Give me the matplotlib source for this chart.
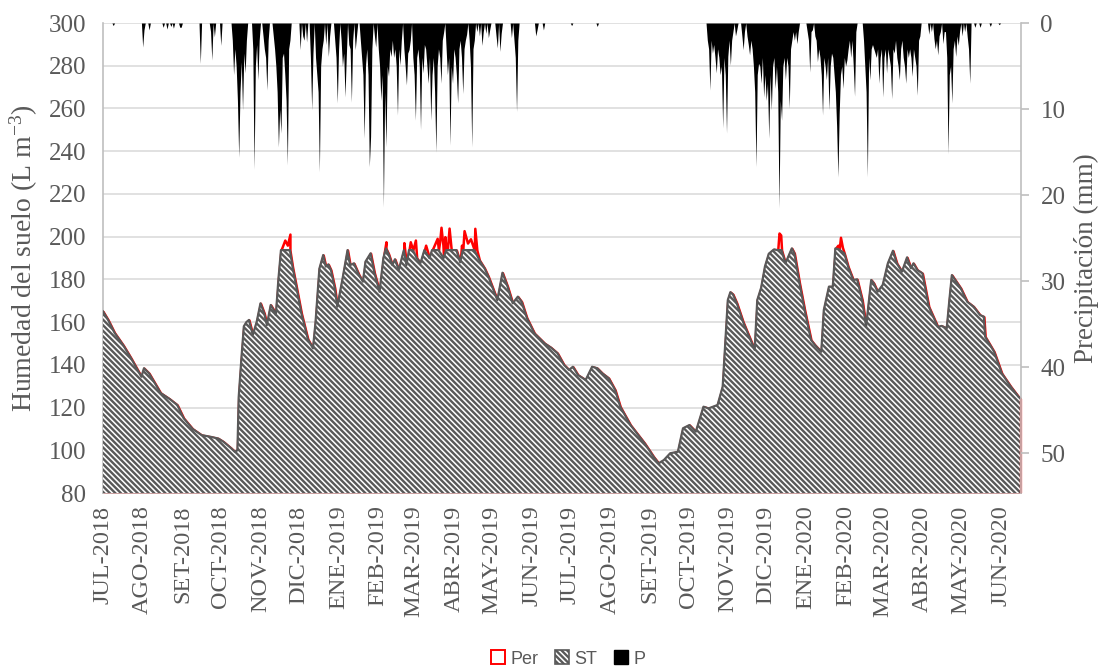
import numpy as np
import pandas as pd
import matplotlib
matplotlib.use("Agg")
import matplotlib.pyplot as plt
from matplotlib.patches import Patch

plt.rcParams['font.family'] = ['Liberation Serif', 'DejaVu Serif']
plt.rcParams['mathtext.fontset'] = 'custom'
plt.rcParams['mathtext.rm'] = 'Liberation Serif'
plt.rcParams['mathtext.it'] = 'Liberation Serif:italic'
plt.rcParams['hatch.linewidth'] = 1.7

# days counted from 2018-07-01
start = pd.Timestamp("2018-07-01")
n_days = 718

month_labels = ["JUL-2018", "AGO-2018", "SET-2018", "OCT-2018", "NOV-2018", "DIC-2018",
                "ENE-2019", "FEB-2019", "MAR-2019", "ABR-2019", "MAY-2019", "JUN-2019",
                "JUL-2019", "AGO-2019", "SET-2019", "OCT-2019", "NOV-2019", "DIC-2019",
                "ENE-2020", "FEB-2020", "MAR-2020", "ABR-2020", "MAY-2020", "JUN-2020"]

# soil water storage ST (L m-3)
st_day = [0, 4, 9, 16, 22, 30, 32, 36, 45, 52, 58, 63, 70, 77, 84, 90, 94, 100, 103, 105,
          106, 108, 110, 112, 114, 117, 120, 123, 126, 128, 131, 133, 135, 137, 139, 146, 148,
          155, 160, 164, 166, 169, 172, 174, 176, 178, 181, 183, 187, 191, 193, 196, 200, 203,
          205, 209, 212, 216, 219, 221, 223, 226, 228, 231, 235, 237, 239, 242, 245, 248, 251,
          255, 257, 262, 266, 268, 276, 279, 281, 290, 294, 298, 301, 305, 308, 312, 316, 320,
          324, 327, 331, 337, 345, 350, 355, 360, 364, 367, 371, 377, 382, 386, 390, 395, 400,
          404, 412, 423, 430, 434, 438, 443, 449, 453, 458, 463, 469, 473, 480, 484, 486, 488,
          490, 492, 495, 500, 509, 511, 514, 517, 520, 524, 527, 530, 533, 538, 540, 544, 548,
          553, 556, 561, 563, 567, 570, 572, 575, 579, 582, 586, 589, 593, 596, 600, 602, 605,
          609, 613, 617, 620, 624, 628, 631, 633, 636, 640, 645, 652, 655, 659, 661, 663, 670,
          675, 680, 685, 688, 689, 696, 702, 709, 715, 717]
st_val = [165, 161, 155, 149, 143, 134.4, 138.4, 136, 126.8, 124, 121.2, 115, 110, 107.1, 106.3,
          105.5, 104, 101, 99.3, 100, 125, 142.2, 158, 160, 161, 154, 160, 168.8, 164, 158.6,
          168, 166, 163.3, 180, 193.7, 193.7, 186, 164, 152, 147.7, 160, 185, 191.4, 186, 187,
          184.4, 176, 167.2, 180, 193.7, 186.7, 187.5, 182, 178.9, 188.3, 192.2, 183, 174.2,
          190, 194.5, 192, 186.7, 189.4, 184.4, 193.7, 186.7, 193.7, 193.7, 190, 187.7, 193.7,
          189.9, 193.7, 193.7, 190, 193.7, 193.7, 188, 193.7, 193.7, 189, 185.2, 181.3, 175,
          170.3, 183.1, 176.6, 168.8, 171.9, 169.5, 162, 154.7, 150, 148, 145.4, 140, 137.6,
          139.1, 135.2, 132.9, 139.1, 138.4, 136, 133.7, 128.2, 120.4, 111.8, 103.3, 97, 93.9,
          95.4, 98.6, 99.3, 110.3, 111.8, 108.7, 120.4, 119.6, 121.2, 129.8, 150, 170.3, 174,
          173, 168.9, 160, 147, 170.3, 176, 186, 192, 194, 193.7, 193.7, 187.5, 194.5, 192.2,
          178.2, 165.7, 151.6, 149.3, 146.1, 165.7, 176.6, 176.6, 194.5, 194, 192.2, 185.9,
          179.7, 180, 170.3, 157.8, 179.7, 178.2, 174.2, 177.4, 187.5, 193.4, 187.5, 183.6,
          190.3, 185.2, 187.5, 184.4, 182.8, 167.2, 157.8, 158.2, 157.1, 170, 182, 175.8, 169.5,
          167.2, 163.3, 162.5, 153.2, 146.1, 136, 129.8, 125.1, 124]

# percolation level Per, where it rises above ST
per_day = [142, 144, 146, 221, 235, 240, 244, 252, 258, 261, 263, 264, 265.5, 267, 269, 270.3,
           272, 280, 282, 284.7, 287, 290.4, 292, 528, 529.3, 574, 576, 577.5]
per_val = [198.4, 196, 201.2, 197.6, 197.2, 197.6, 198.4, 196, 195, 199.2, 198, 204.4, 196, 200,
           194, 204, 193.7, 196, 202.8, 197, 199, 203.9, 193.7, 201.7, 200.8, 196, 199.7, 195]

# precipitation P (mm), rainy days only
p_day = [8, 31, 32, 36, 47, 50, 53, 55, 60, 61, 76, 84, 85, 87, 92,
         101, 102, 103, 104, 105, 106, 107, 108, 109, 110, 111, 112, 117, 118, 119, 120, 121, 122,
         125, 126, 127, 128, 129, 133, 134, 135, 136, 137, 138, 139, 140, 141, 142, 143, 144, 145,
         146, 154, 156, 157, 159, 162, 163, 164, 166, 167, 168, 169, 170, 171, 172, 174, 176, 177,
         181, 182, 183, 184, 186, 187, 188, 189, 190, 192, 193, 194, 195, 197, 198, 201, 202, 203,
         204, 205, 206, 207, 208, 209, 210, 212, 213, 215, 216, 217, 218, 219, 220, 221, 222, 223,
         224, 225, 226, 227, 228, 229, 230, 231, 232, 233, 235, 236, 237, 238, 239, 240, 242, 243,
         244, 245, 246, 247, 248, 249, 250, 251, 252, 253, 254, 255, 256, 257, 258, 259, 260, 261,
         262, 263, 264, 265, 266, 268, 269, 270, 271, 272, 273, 274, 275, 276, 277, 278, 279, 280,
         281, 282, 283, 284, 286, 287, 288, 289, 290, 292, 294, 296, 297, 299, 301, 302, 307, 308,
         310, 311, 319, 321, 322, 323, 324, 338, 339, 344, 366, 386,
         472, 473, 474, 475, 476, 477, 478, 479, 480, 481, 482, 483, 484, 485, 486, 487, 488, 489,
         490, 491, 492, 494, 495, 499, 500, 501, 503, 504, 505, 506, 507, 508, 509, 510, 511, 512,
         513, 514, 515, 516, 517, 518, 519, 520, 521, 522, 523, 524, 525, 526, 527, 528, 529, 530,
         531, 532, 533, 534, 535, 536, 537, 538, 539, 540, 541, 542, 543, 550, 551, 552, 553, 554,
         556, 557, 558, 559, 560, 561, 562, 563, 564, 565, 566, 567, 568, 569, 570, 571, 572, 573,
         574, 575, 576, 577, 578, 579, 580, 581, 582, 583, 584, 585, 586, 587, 588,
         594, 595, 596, 597, 598, 599, 600, 601, 602, 603, 604, 605, 606, 607, 608, 609, 610, 611,
         612, 613, 614, 615, 616, 617, 618, 619, 620, 621, 622, 623, 624, 625, 626, 627, 628, 629,
         630, 631, 632, 633, 634, 635, 636, 637, 638, 645, 647, 649, 650, 651, 652, 653, 654, 656,
         657, 658, 659, 660, 661, 662, 663, 664, 665, 666, 667, 668, 669, 671, 673, 675, 676, 677,
         681, 685, 693, 700]
p_val = [0.3, 2.8, 0.8, 0.8, 0.5, 0.7, 0.4, 0.6, 0.5, 0.5, 4.7, 1.0, 4.3, 1.6, 2.6,
         2.0, 6.0, 3.0, 5.0, 9.0, 15.6, 8.0, 4.5, 10.1, 3.5, 5.8, 2.0, 3.0, 17.0, 5.0, 2.5, 6.6, 2.0,
         1.5, 3.0, 4.0, 7.8, 2.0, 1.5, 3.0, 5.0, 8.0, 14.4, 10.0, 12.8, 4.0, 3.5, 6.0, 9.0, 16.5, 3.0,
         2.0, 3.1, 1.5, 2.0, 2.2, 4.0, 10.1, 3.5, 4.0, 6.0, 8.0, 17.3, 5.0, 3.0, 2.0, 2.5, 3.9, 1.5,
         2.0, 4.0, 9.3, 3.0, 2.0, 5.0, 3.5, 8.6, 4.0, 2.5, 3.0, 9.2, 2.0, 3.1, 1.5, 2.0, 4.0, 6.0,
         13.4, 5.0, 3.0, 6.0, 16.7, 13.2, 3.0, 1.5, 2.8, 3.0, 5.0, 9.0, 6.0, 21.4, 8.0, 14.4, 5.0, 6.2,
         3.0, 3.9, 2.0, 4.0, 3.0, 5.0, 10.7, 3.0, 4.9, 2.0, 3.0, 5.0, 7.2, 3.5, 3.1, 2.0, 4.0, 6.0,
         11.3, 4.0, 3.0, 5.0, 12.4, 4.0, 5.8, 2.5, 3.0, 5.0, 7.0, 4.0, 11.3, 6.0, 4.0, 8.0, 15.0, 5.0,
         3.0, 4.0, 7.0, 2.0, 1.1, 3.0, 6.0, 4.0, 14.2, 5.0, 7.0, 3.0, 4.0, 6.0, 9.3, 3.0, 2.0, 4.0,
         8.2, 3.0, 2.0, 1.3, 2.0, 5.0, 14.4, 3.0, 2.0, 1.0, 1.5, 2.6, 1.0, 1.2, 1.7, 0.8, 1.5, 2.9,
         3.3, 1.2, 1.7, 2.0, 4.0, 10.3, 2.0, 1.5, 0.8, 0.8, 0.3, 0.4,
         2.0, 3.0, 7.8, 2.0, 3.5, 2.5, 4.0, 5.8, 3.0, 4.0, 6.0, 5.0, 12.2, 4.0, 6.0, 12.8, 3.9, 2.0,
         4.9, 2.0, 1.0, 1.5, 0.8, 1.5, 3.1, 1.0, 1.5, 2.5, 3.7, 2.0, 3.0, 5.0, 8.0, 16.7, 6.0, 4.7,
         5.0, 7.0, 4.0, 8.6, 6.0, 9.0, 7.0, 13.4, 6.0, 10.1, 5.0, 4.0, 7.6, 5.0, 8.0, 21.5, 9.0, 11.3,
         5.0, 4.0, 6.6, 4.0, 5.0, 9.9, 3.0, 2.0, 1.0, 2.0, 1.0, 2.4, 1.0, 1.0, 2.0, 5.7, 1.0, 0.8,
         1.5, 2.0, 4.5, 3.0, 4.0, 6.0, 10.7, 4.0, 5.0, 6.6, 4.0, 10.1, 5.0, 3.5, 4.0, 6.0, 8.0, 12.0,
         17.9, 10.5, 6.0, 5.0, 7.6, 4.0, 5.0, 4.3, 3.0, 2.0, 4.0, 2.0, 5.0, 8.5, 1.0,
         2.0, 5.0, 8.0, 17.9, 4.0, 6.6, 3.0, 2.5, 3.0, 3.5, 4.0, 3.0, 7.0, 4.0, 3.0, 8.6, 4.0, 3.0,
         5.8, 3.0, 4.0, 5.0, 8.8, 3.0, 3.5, 2.0, 4.0, 5.0, 6.6, 3.0, 2.0, 4.0, 5.0, 7.0, 3.0, 4.0,
         3.0, 4.0, 6.2, 3.0, 4.0, 5.0, 8.4, 2.0, 1.5, 1.3, 1.0, 1.8, 3.0, 2.0, 3.7, 1.5, 1.0, 2.4,
         1.0, 1.0, 4.0, 15.2, 6.0, 5.0, 9.3, 3.0, 2.0, 3.9, 1.5, 2.6, 1.0, 1.5, 1.0, 1.6, 3.0, 7.0,
         0.5, 0.5, 0.4, 0.2]

# +

def to_date(days):
    return start + pd.to_timedelta(np.asarray(days, dtype=float), unit="D")

st_x = to_date(st_day)

# Per follows ST and adds the peaks above it
per = pd.concat([pd.Series(st_val, index=st_day), pd.Series(per_val, index=per_day)])
per = per.sort_index()
per_x = to_date(per.index.values)

p_daily = np.zeros(n_days)
p_daily[p_day] = p_val
p_x = to_date(np.arange(n_days))

# +

grey = "#595959"
fig = plt.figure(figsize=(11.03, 6.71), dpi=100)
ax = fig.add_axes([103 / 1103, 1 - 493 / 671, 918 / 1103, 470 / 671])

ax.fill_between(per_x, 80, per.values, facecolor="white", edgecolor="red", linewidth=1.8, zorder=2)
ax.fill_between(st_x, 80, st_val, facecolor="white", edgecolor=grey, hatch="\\" * 6,
                linewidth=0, zorder=3)
ax.plot(st_x, st_val, color=grey, linewidth=1.6, zorder=4)
# red edge of Per closing at the last day
ax.vlines(per_x[-1], 80, per.values[-1], color="red", linewidth=1.6, zorder=5, clip_on=False)

ax.set_ylim(80, 300)
ax.set_yticks(range(80, 301, 20))
ax.set_xlim(start, start + pd.Timedelta(days=717))
ax.set_xticks(pd.date_range(start, periods=24, freq="MS"))
ax.set_xticklabels(month_labels, rotation=90)
ax.grid(axis="y", color="#d9d9d9", linewidth=1.1)
ax.set_axisbelow(True)
ax.tick_params(axis="y", length=0, labelsize=18, colors=grey, pad=12)
ax.tick_params(axis="x", length=0, labelsize=17.5, colors=grey, pad=9)
ax.set_ylabel("Humedad del suelo (L m$^{-3}$)", fontsize=20, color=grey, labelpad=6)
for s in ["top", "right"]:
    ax.spines[s].set_visible(False)
for s in ["left", "bottom"]:
    ax.spines[s].set_color("#bfbfbf")
    ax.spines[s].set_linewidth(1.2)

ax2 = ax.twinx()
ax2.fill_between(p_x, 0, p_daily, color="black", linewidth=0, zorder=5)
ax2.set_ylim(54.65, 0)
ax2.set_yticks(range(0, 51, 10))
ax2.tick_params(axis="y", length=6, width=1.2, color="#bfbfbf", labelsize=18, labelcolor=grey, pad=8)
ax2.set_ylabel("Precipitación (mm)", fontsize=19.5, color=grey, labelpad=6)
for s in ["top", "left", "bottom"]:
    ax2.spines[s].set_visible(False)
ax2.spines["right"].set_color("#bfbfbf")
ax2.spines["right"].set_linewidth(1.2)

handles = [Patch(facecolor="white", edgecolor="red", linewidth=1.4),
           Patch(facecolor="white", edgecolor=grey, hatch="\\" * 6, linewidth=1.2),
           Patch(facecolor="black", edgecolor="black")]
fig.legend(handles, ["Per", "ST", "P"], loc="center", bbox_to_anchor=(0.515, 0.018), ncol=3,
           frameon=False, handlelength=0.8, handleheight=0.8, handletextpad=0.3,
           columnspacing=0.9, prop={"family": "Liberation Sans", "size": 13}, labelcolor=grey)

fig.savefig("out.png", dpi=100)
